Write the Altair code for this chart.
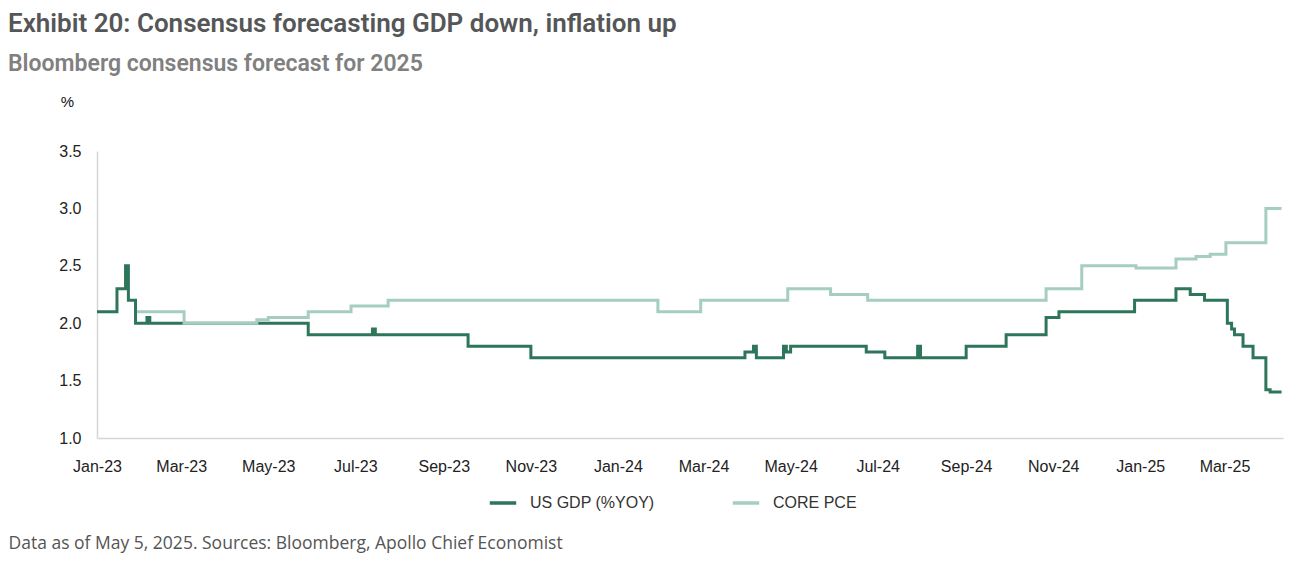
import altair as alt
import pandas as pd

GDP_NAME = "US GDP (%YOY)"
PCE_NAME = "CORE PCE"

gdp_dates = ["2023-01-01", "2023-01-15", "2023-01-21", "2023-01-23", "2023-01-28",
             "2023-02-05", "2023-02-07", "2023-05-29", "2023-07-13", "2023-07-15",
             "2023-09-18", "2023-11-01", "2024-03-30", "2024-04-05", "2024-04-07",
             "2024-04-26", "2024-04-28", "2024-05-01", "2024-06-23", "2024-07-06",
             "2024-07-29", "2024-07-31", "2024-09-01", "2024-09-29", "2024-10-27",
             "2024-11-05", "2024-12-28", "2025-01-26", "2025-02-05", "2025-02-15",
             "2025-03-03", "2025-03-06", "2025-03-08", "2025-03-14", "2025-03-21",
             "2025-03-30", "2025-04-02", "2025-04-10"]
gdp_vals = [2.1, 2.3, 2.5, 2.2, 2.0,
            2.05, 2.0, 1.9, 1.95, 1.9,
            1.8, 1.7, 1.75, 1.8, 1.7,
            1.8, 1.75, 1.8, 1.75, 1.7,
            1.8, 1.7, 1.8, 1.9, 2.05,
            2.1, 2.2, 2.3, 2.25, 2.2,
            2.0, 1.95, 1.9, 1.8, 1.7,
            1.42, 1.4, 1.4]

pce_dates = ["2023-01-29", "2023-03-03", "2023-04-23", "2023-05-01", "2023-05-29",
             "2023-06-28", "2023-07-24", "2024-01-29", "2024-02-28", "2024-04-29",
             "2024-05-29", "2024-06-24", "2024-10-27", "2024-11-21", "2024-12-29",
             "2025-01-26", "2025-02-09", "2025-02-19", "2025-03-02", "2025-03-30",
             "2025-04-10"]
pce_vals = [2.1, 2.0, 2.03, 2.05, 2.1,
            2.15, 2.2, 2.1, 2.2, 2.3,
            2.25, 2.2, 2.3, 2.5, 2.48,
            2.56, 2.58, 2.6, 2.7, 3.0,
            3.0]

y_ticks = [1.0, 1.5, 2.0, 2.5, 3.0, 3.5]
x_tick_months = [(2023, 1), (2023, 3), (2023, 5), (2023, 7), (2023, 9), (2023, 11),
                 (2024, 1), (2024, 3), (2024, 5), (2024, 7), (2024, 9), (2024, 11),
                 (2025, 1), (2025, 3)]

df_gdp = pd.DataFrame({"date": gdp_dates, "value": gdp_vals, "series": GDP_NAME})
df_pce = pd.DataFrame({"date": pce_dates, "value": pce_vals, "series": PCE_NAME})

GDP_COLOR = "#2e765a"
PCE_COLOR = "#a6cdc2"
AXIS_GRAY = "#d6d6d6"

x_enc = alt.X(
    "date:T",
    scale=alt.Scale(type="utc", domain=[alt.DateTime(year=2023, month=1, date=1, utc=True),
                                        alt.DateTime(year=2025, month=4, date=11, utc=True)]),
    axis=alt.Axis(
        values=[alt.DateTime(year=y, month=m, date=1, utc=True) for y, m in x_tick_months],
        labelExpr="utcFormat(datum.value, '%b-%y')",
        labelFont="Liberation Sans", labelFontSize=16, labelColor="#222222",
        labelPadding=20, ticks=False, grid=False, labelFlush=False, labelAlign="center",
        domainColor=AXIS_GRAY, domainWidth=1.5,
        labelOverlap=False,
        title="Data as of May 5, 2025. Sources: Bloomberg, Apollo Chief Economist",
        titleX=-89, titleY=105, titleAlign="left", titleBaseline="middle",
        titleFont="Open Sans", titleFontSize=17.5, titleFontWeight="normal", titleColor="#555555",
    ),
)
y_enc = alt.Y(
    "value:Q",
    scale=alt.Scale(domain=[1.0, 3.5], nice=False, zero=False),
    axis=alt.Axis(
        values=y_ticks, format=".1f",
        labelFont="Liberation Sans", labelFontSize=16, labelColor="#222222",
        labelPadding=16, ticks=False, grid=False,
        domainColor=AXIS_GRAY, domainWidth=1.5,
        title="%", titleAngle=0, titleX=-30, titleY=-50,
        titleAlign="center", titleBaseline="middle",
        titleFont="Liberation Sans", titleFontSize=15, titleFontWeight="normal", titleColor="#111111",
    ),
)
color_enc = alt.Color(
    "series:N",
    scale=alt.Scale(domain=[GDP_NAME, PCE_NAME], range=[GDP_COLOR, PCE_COLOR]),
    legend=alt.Legend(
        orient="none", legendX=391, legendY=337, direction="horizontal", title=None,
        symbolType="stroke", symbolSize=700, symbolStrokeWidth=3.5,
        labelFont="Liberation Sans", labelFontSize=16, labelColor="#333333",
        labelOffset=12, columnPadding=70,
    ),
)

gdp_line = alt.Chart(df_gdp).mark_line(strokeWidth=3, interpolate="step-after").encode(
    x=x_enc, y=y_enc, color=color_enc)
pce_line = alt.Chart(df_pce).mark_line(strokeWidth=3, interpolate="step-after").encode(
    x=x_enc, y=y_enc, color=color_enc)

chart = alt.layer(gdp_line, pce_line).properties(
    width=1186, height=287,
    padding={"left": 89, "top": 143, "right": 1, "bottom": 116},
    autosize=alt.AutoSizeParams(type="none"),
    title=alt.TitleParams(
        text="Exhibit 20: Consensus forecasting GDP down, inflation up",
        subtitle="Bloomberg consensus forecast for 2025",
        anchor="start", frame="group", dx=-89, offset=18,
        font="Roboto", fontSize=26, fontWeight=600, color="#555657",
        subtitleFont="Roboto", subtitleFontSize=23, subtitleFontWeight=600,
        subtitleColor="#808080", subtitlePadding=16,
    ),
).configure_view(stroke=None)

chart.save("out.html", embed_options={"renderer": "svg", "actions": False})
